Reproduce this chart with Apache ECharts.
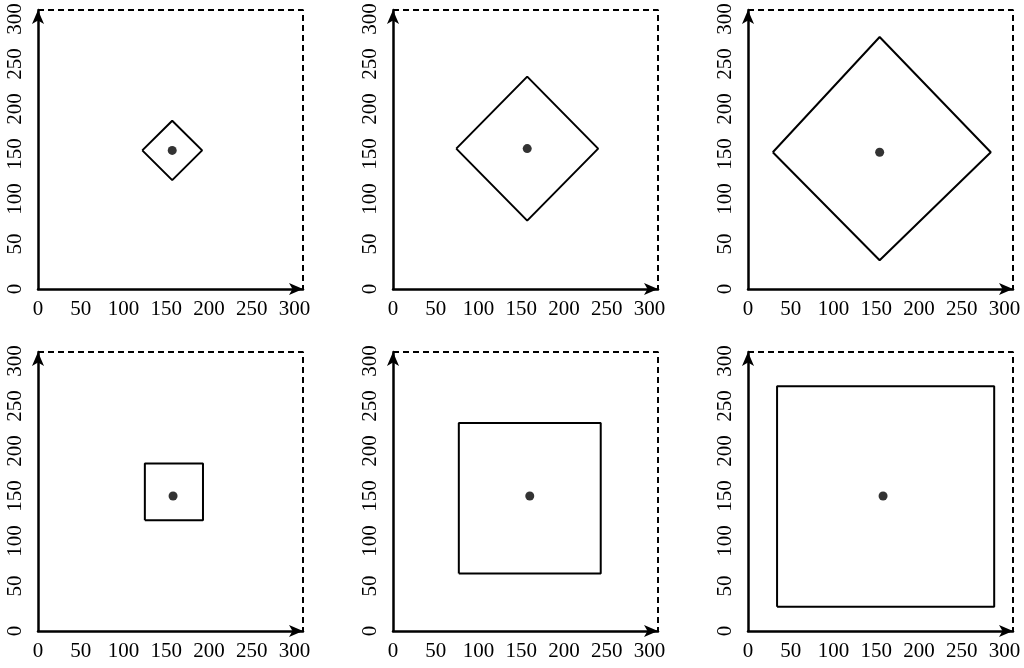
<!DOCTYPE html>
<html><head><meta charset="utf-8">
<script src="https://cdn.jsdelivr.net/npm/echarts@6/dist/echarts.min.js"></script>
<style>html,body{margin:0;padding:0;background:#fff}#main{width:1024px;height:668px}</style>
</head><body><div id="main"></div>
<script>
var ticks = [0, 50, 100, 150, 200, 250, 300];
var centers = [[157, 154], [157, 156], [154, 152], [158, 150], [160, 150], [158, 150]];
var shapes = [
    [[122, 154], [157, 187], [192, 154], [157, 121], [122, 154]],
    [[74, 156], [157, 236], [240, 156], [157, 76], [74, 156]],
    [[29, 152], [154, 280], [284, 152], [154, 32], [29, 152]],
    [[125, 123], [125, 186], [193, 186], [193, 123], [125, 123]],
    [[77, 64], [77, 231], [243, 231], [243, 64], [77, 64]],
    [[34, 27], [34, 272], [288, 272], [288, 27], [34, 27]]
];
var border = [[0, 310], [310, 310], [310, 0]];

var lefts = [38, 393, 748];
var tops = [10, 352];
var font = {fontFamily: 'Liberation Serif', fontSize: 21, color: '#000'};
var grid = [], xAxis = [], yAxis = [], series = [];
for (var i = 0; i < 6; i++) {
    grid.push({left: lefts[i % 3], top: tops[Math.floor(i / 3)], width: 265, height: 279});
    var axisCommon = {
        gridIndex: i, type: 'value', min: 0, max: 310, interval: 50,
        splitLine: {show: false}, axisTick: {show: false},
        axisLine: {lineStyle: {color: '#000', width: 2.5}, symbol: ['none', 'arrow'], symbolSize: [9, 14]}
    };
    xAxis.push(Object.assign({}, axisCommon, {
        axisLabel: Object.assign({}, font, {margin: 10, showMaxLabel: false})
    }));
    yAxis.push(Object.assign({}, axisCommon, {
        axisLabel: Object.assign({}, font, {rotate: 90, margin: 12, showMaxLabel: false})
    }));
    series.push({type: 'line', xAxisIndex: i, yAxisIndex: i, data: border, symbol: 'none',
        lineStyle: {color: '#000', width: 2, type: [6, 4]}, silent: true});
    series.push({type: 'line', xAxisIndex: i, yAxisIndex: i, data: shapes[i], symbol: 'none',
        lineStyle: {color: '#000', width: 2}, silent: true});
    series.push({type: 'scatter', xAxisIndex: i, yAxisIndex: i, data: [centers[i]], symbolSize: 9,
        itemStyle: {color: '#000'}, silent: true});
}
var myChart = echarts.init(document.getElementById('main'));
myChart.setOption({animation: false, grid: grid, xAxis: xAxis, yAxis: yAxis, series: series});
</script>
</body></html>
